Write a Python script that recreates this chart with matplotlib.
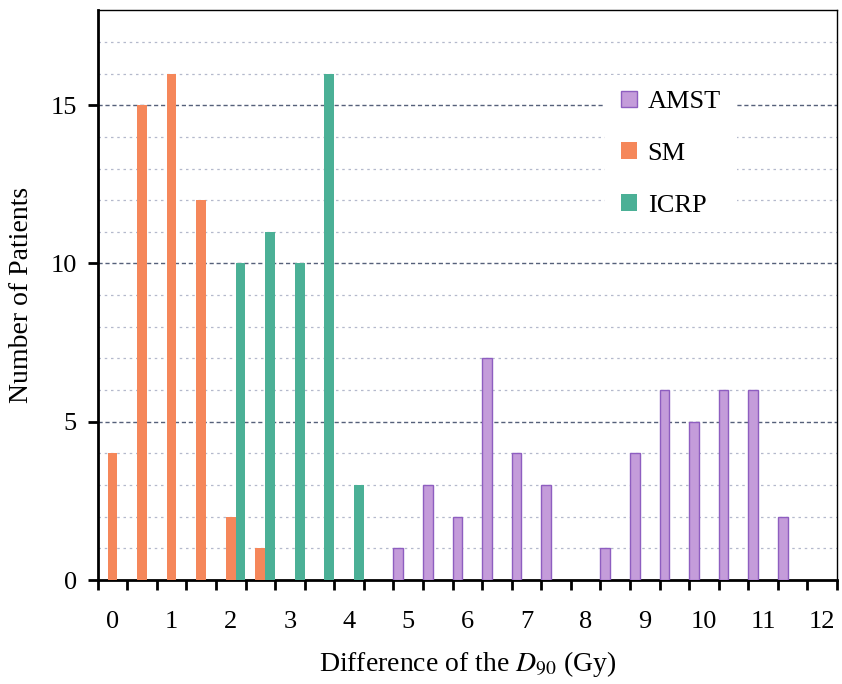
import numpy as np
import matplotlib.pyplot as plt

# category bins (Gy), one every 0.5
BINS = np.arange(0, 12.5, 0.5)

SM_X = [0, 0.5, 1, 1.5, 2, 2.5]
SM_N = [4, 15, 16, 12, 2, 1]

ICRP_X = [2, 2.5, 3, 3.5, 4]
ICRP_N = [10, 11, 10, 16, 3]

AMST_X = [5, 5.5, 6, 6.5, 7, 7.5, 8.5, 9, 9.5, 10, 10.5, 11, 11.5]
AMST_N = [1, 3, 2, 7, 4, 3, 1, 4, 6, 5, 6, 6, 2]

X_LABELS = [str(i) for i in range(13)]

SM_COLOR = '#F5875A'
ICRP_COLOR = '#4BB096'
AMST_COLOR = '#C49CDA'
AMST_EDGE = '#8E5EC0'

plt.rcParams['font.family'] = ['Liberation Serif', 'DejaVu Serif']
plt.rcParams['mathtext.fontset'] = 'stix'

fig = plt.figure(figsize=(8.42, 6.84), dpi=100)
ax = fig.add_axes([0.116, 0.152, 0.878, 0.833])

w = 0.165
off = 0.5 / 3
ax.bar(np.array(AMST_X) - off, AMST_N, width=w, color=AMST_COLOR,
       edgecolor=AMST_EDGE, linewidth=1.0, label='AMST', zorder=3)
ax.bar(np.array(SM_X), SM_N, width=w, color=SM_COLOR, label='SM', zorder=3)
ax.bar(np.array(ICRP_X) + off, ICRP_N, width=w, color=ICRP_COLOR,
       label='ICRP', zorder=3)

ax.set_xlim(-0.25, 12.25)
ax.set_ylim(0, 18)

# gridlines
for y in range(1, 18):
    if y % 5 == 0:
        ax.axhline(y, color='#55607a', linestyle=(0, (3, 2)), linewidth=1.0, zorder=1)
    else:
        ax.axhline(y, color='#b4b9cc', linestyle=(0, (2, 3)), linewidth=0.9, zorder=1)

ax.set_xticks(range(13))
ax.set_xticklabels(X_LABELS, fontsize=19)
ax.set_xticks(np.arange(-0.25, 12.3, 0.5), minor=True)
ax.tick_params(axis='x', which='major', length=0, pad=22)
ax.tick_params(axis='x', which='minor', length=7, width=2, direction='out')

ax.set_yticks([0, 5, 10, 15])
ax.tick_params(axis='y', which='major', length=7, width=2, direction='out',
               labelsize=19, pad=8)

for s in ax.spines.values():
    s.set_linewidth(1.0)
ax.spines['left'].set_linewidth(2)
ax.spines['bottom'].set_linewidth(2)

ax.set_ylabel('Number of Patients', fontsize=20, labelpad=12)
ax.set_xlabel('Difference of the $\\mathit{D}_{90}$ (Gy)', fontsize=20, labelpad=12)

leg = ax.legend(loc='upper left', bbox_to_anchor=(0.669, 0.91), frameon=True,
                fontsize=19, labelspacing=1.1, handlelength=0.6, handleheight=0.6,
                handletextpad=0.4, borderpad=0.6, fancybox=False)
leg.get_frame().set_edgecolor('none')
leg.get_frame().set_facecolor('white')
leg.get_frame().set_alpha(1)
leg.set_zorder(5)

fig.savefig('out.png', dpi=100)
